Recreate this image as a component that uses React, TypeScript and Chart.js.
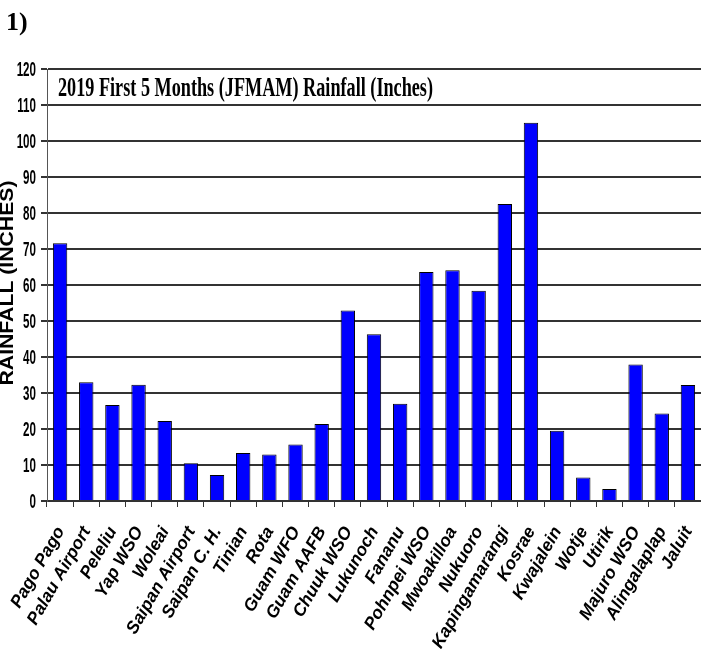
import React, { useEffect, useRef } from "react";
import { Chart, registerables } from "chart.js";

Chart.register(...registerables);

const categories = [
  "Pago Pago", "Palau Airport", "Peleliu", "Yap WSO", "Woleai", "Saipan Airport",
  "Saipan C. H.", "Tinian", "Rota", "Guam WFO", "Guam AAFB", "Chuuk WSO",
  "Lukunoch", "Fananu", "Pohnpei WSO", "Mwoakilloa", "Nukuoro", "Kapingamarangi",
  "Kosrae", "Kwajalein", "Wotje", "Utirik", "Majuro WSO", "Alingalaplap", "Jaluit",
];

const rainfall = [
  71.6, 33.0, 26.7, 32.3, 22.2, 10.5,
  7.2, 13.3, 12.9, 15.7, 21.4, 52.9,
  46.3, 27.0, 63.6, 64.1, 58.4, 82.5,
  105.1, 19.5, 6.5, 3.3, 37.9, 24.3, 32.2,
];

const yTickValues = [0, 10, 20, 30, 40, 50, 60, 70, 80, 90, 100, 110, 120];

const chartTitle = "2019 First 5 Months (JFMAM) Rainfall (Inches)";
const yAxisTitle = "RAINFALL (INCHES)";
const pageLabel = "1)";

const overlayPlugin = {
  id: "overlay",
  afterDraw(chart: any) {
    const ctx = chart.ctx;
    const y = chart.scales.y;
    const x = chart.scales.x;
    ctx.save();
    ctx.fillStyle = "#000";

    // y tick labels (condensed)
    ctx.font = 'bold 20px "Liberation Sans", Arial, sans-serif';
    ctx.textAlign = "right";
    ctx.textBaseline = "middle";
    yTickValues.forEach((v) => {
      const py = y.getPixelForValue(v);
      ctx.save();
      ctx.translate(36, py + 1);
      ctx.scale(0.58, 1);
      ctx.fillText(String(v), 0, 0);
      ctx.restore();
    });

    // x tick labels (rotated, bold italic)
    ctx.font = 'italic bold 17.5px "Liberation Sans", Arial, sans-serif';
    ctx.textAlign = "right";
    ctx.textBaseline = "top";
    const ang = (60 * Math.PI) / 180;
    categories.forEach((c, i) => {
      const px = x.getPixelForTick(i);
      ctx.save();
      ctx.translate(px - 7, 524);
      ctx.rotate(-ang);
      ctx.fillText(c, 0, 0);
      ctx.restore();
    });

    // y axis title
    ctx.font = 'bold 18px "Liberation Sans", Arial, sans-serif';
    ctx.textAlign = "center";
    ctx.textBaseline = "alphabetic";
    const yw = ctx.measureText(yAxisTitle).width;
    ctx.save();
    ctx.translate(13, 283);
    ctx.rotate(-Math.PI / 2);
    ctx.scale(205 / yw, 1);
    ctx.fillText(yAxisTitle, 0, 0);
    ctx.restore();

    // chart title (condensed serif)
    ctx.font = 'bold 27px "Liberation Serif", "Times New Roman", serif';
    ctx.textAlign = "left";
    ctx.textBaseline = "alphabetic";
    const tw = ctx.measureText(chartTitle).width;
    ctx.save();
    ctx.translate(58, 96);
    ctx.scale(375 / tw, 1);
    ctx.fillText(chartTitle, 0, 0);
    ctx.restore();

    // page label
    ctx.font = 'bold 26px "Liberation Serif", "Times New Roman", serif';
    ctx.fillText(pageLabel, 6, 30);

    ctx.restore();
  },
};

export default function App() {
  const ref = useRef<HTMLCanvasElement | null>(null);

  useEffect(() => {
    const prevMargin = document.body.style.margin;
    document.body.style.margin = "0";
    const canvas = ref.current!;
    const chart = new Chart(canvas, {
      type: "bar",
      data: {
        labels: categories,
        datasets: [
          {
            data: rainfall,
            backgroundColor: "#0000FF",
            borderColor: "#000000",
            borderWidth: 1,
            barPercentage: 0.55,
            categoryPercentage: 1,
          },
        ],
      },
      options: {
        responsive: false,
        animation: false,
        devicePixelRatio: 1,
        layout: { padding: { top: 69, right: 0, left: 0, bottom: 0 } },
        plugins: {
          legend: { display: false },
          title: { display: false },
          tooltip: { enabled: false },
        },
        scales: {
          x: {
            grid: {
              offset: true,
              drawOnChartArea: false,
              drawTicks: true,
              tickLength: 6,
              color: "#333",
              lineWidth: 1,
            },
            border: { display: true, color: "#333", width: 1.5 },
            ticks: { autoSkip: false, display: false },
            afterFit(scale: any) {
              scale.height = 148;
              scale.paddingLeft = 0;
              scale.paddingRight = 0;
            },
          },
          y: {
            min: 0,
            max: 120,
            ticks: { stepSize: 10, display: false },
            grid: {
              drawTicks: true,
              tickLength: 6,
              color: "#333",
              lineWidth: 2,
            },
            border: { display: true, color: "#555", width: 1 },
            afterFit(scale: any) {
              scale.width = 47;
              scale.paddingTop = 0;
              scale.paddingBottom = 0;
            },
          },
        },
      },
      plugins: [overlayPlugin],
    });
    return () => {
      chart.destroy();
      document.body.style.margin = prevMargin;
    };
  }, []);

  return (
    <div style={{ position: "absolute", left: 0, top: 0, width: 701, height: 649, background: "#fff" }}>
      <canvas ref={ref} width={701} height={649} style={{ display: "block" }} />
    </div>
  );
}
